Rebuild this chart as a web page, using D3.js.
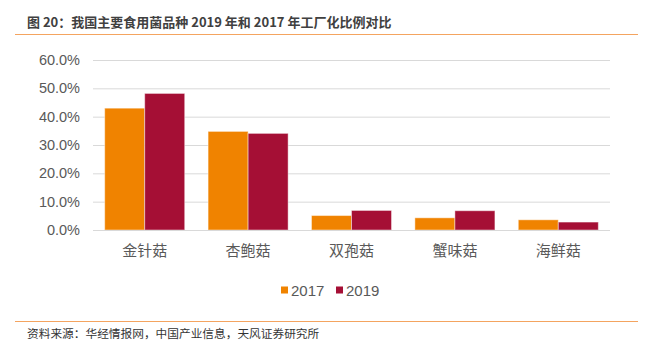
<!DOCTYPE html>
<html><head><meta charset="utf-8">
<script src="https://cdn.jsdelivr.net/npm/d3@7"></script>
<style>
body{margin:0;background:#fff;}
svg{display:block;}
</style></head>
<body>
<svg id="c" width="655" height="349"></svg>
<script>
const categories = ["金针菇","杏鲍菇","双孢菇","蟹味菇","海鲜菇"];
const series2017 = [43.0, 34.8, 5.1, 4.3, 3.6];
const series2019 = [48.2, 34.1, 6.9, 6.8, 2.8];
const seriesNames = ["2017","2019"];
const yTicks = [0,10,20,30,40,50,60];
const titleText = "图 20：我国主要食用菌品种 2019 年和 2017 年工厂化比例对比";
const sourceText = "资料来源：华经情报网，中国产业信息，天风证券研究所";

(function(){
const colors = ["#F08300","#A50F35"];
const cjk = "'Noto Sans CJK SC','Microsoft YaHei',sans-serif";
const latin = "'Liberation Sans',Arial,sans-serif";
const svg = d3.select("#c");

// header
svg.append("text").attr("x",27).attr("y",27)
  .attr("font-family",cjk).attr("font-size",13).attr("font-weight","bold")
  .attr("fill","#404040").text(titleText);
svg.append("line").attr("x1",15).attr("x2",638).attr("y1",34.5).attr("y2",34.5)
  .attr("stroke","#F4A460").attr("stroke-width",1.2);

// footer
svg.append("line").attr("x1",15).attr("x2",638).attr("y1",321.5).attr("y2",321.5)
  .attr("stroke","#F4A460").attr("stroke-width",1.2);
svg.append("text").attr("x",27).attr("y",338)
  .attr("font-family",cjk).attr("font-size",11.7)
  .attr("fill","#333").text(sourceText);

const mL = 93, mR = 610, mT = 60, mB = 230;
const x = d3.scaleBand().domain(categories).range([mL,mR]).paddingInner(0.226).paddingOuter(0.113);
const xs = d3.scaleBand().domain(seriesNames).range([0,x.bandwidth()]);
const y = d3.scaleLinear().domain([0,60]).range([mB,mT]);

// gridlines
const yAxis = d3.axisLeft(y).tickValues(yTicks).tickSize(-(mR-mL)).tickFormat(d=>d.toFixed(1)+"%");
const gy = svg.append("g").attr("transform",`translate(${mL},0)`).call(yAxis);
gy.select(".domain").remove();
gy.selectAll(".tick line").attr("stroke","#d9d9d9").attr("stroke-width",1);
gy.selectAll(".tick text").attr("x",-13).attr("font-family",latin).attr("font-size",14.5).attr("fill","#595959");

// bars
const data = [series2017, series2019];
data.forEach((vals,si)=>{
  svg.append("g").selectAll("rect").data(vals).join("rect")
    .attr("x",(d,i)=>x(categories[i])+xs(seriesNames[si]))
    .attr("width",xs.bandwidth())
    .attr("y",d=>y(d))
    .attr("height",d=>y(0)-y(d))
    .attr("fill",colors[si])
    .attr("stroke","rgba(255,255,255,0.45)").attr("stroke-width",1);
});

// baseline
svg.append("line").attr("x1",mL).attr("x2",mR).attr("y1",y(0)+0.5).attr("y2",y(0)+0.5)
  .attr("stroke","#d9d9d9").attr("stroke-width",1);

// x axis labels
const xAxis = d3.axisBottom(x).tickSize(0).tickPadding(15);
const gx = svg.append("g").attr("transform",`translate(0,${mB})`).call(xAxis);
gx.select(".domain").remove();
gx.selectAll(".tick text").attr("font-family",cjk).attr("font-size",15).attr("fill","#595959");

// legend
const lg = svg.append("g");
const lx = [281, 336];
seriesNames.forEach((n,i)=>{
  lg.append("rect").attr("x",lx[i]).attr("y",286.5).attr("width",7).attr("height",7).attr("fill",colors[i]);
  lg.append("text").attr("x",lx[i]+10).attr("y",296).attr("font-family",latin).attr("font-size",15)
    .attr("fill","#595959").text(n);
});
})();
</script>
</body></html>
